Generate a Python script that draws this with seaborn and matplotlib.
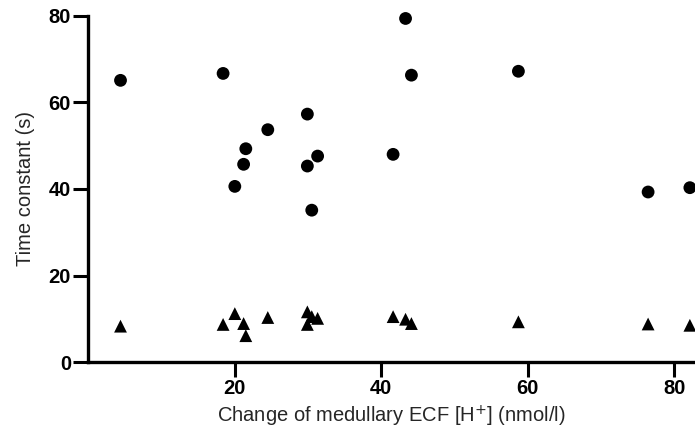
import pandas as pd
import numpy as np
import matplotlib
matplotlib.use('Agg')
import matplotlib.pyplot as plt
import seaborn as sns

# ── Data ─────────────────────────────────────────────────────
delta_h = [4.4, 18.4, 20.0, 21.2, 21.5, 24.5, 29.9, 29.9, 30.5, 31.3,
           41.6, 43.3, 44.1, 58.7, 76.4, 82.1]
tau_slow = [65.1, 66.7, 40.6, 45.7, 49.3, 53.7, 57.3, 45.3, 35.1, 47.6,
            48.0, 79.4, 66.3, 67.2, 39.3, 40.3]
tau_fast = [8.3, 8.7, 11.2, 8.9, 6.1, 10.3, 11.6, 8.7, 10.5, 10.1,
            10.5, 9.9, 8.9, 9.3, 8.8, 8.5]

x_ticks = [20, 40, 60, 80]
y_ticks = [0, 20, 40, 60, 80]

df = pd.DataFrame({
    'dh': delta_h * 2,
    'tau': tau_slow + tau_fast,
    'component': ['slow'] * len(tau_slow) + ['fast'] * len(tau_fast),
})

# ── Plot ─────────────────────────────────────────────────────
sns.set_style('ticks')
plt.rcParams['font.family'] = ['Liberation Sans', 'DejaVu Sans']

fig = plt.figure(figsize=(6.95, 4.29), dpi=100)
ax = fig.add_axes([0.127, 0.156, 0.873, 0.807])

sns.scatterplot(data=df, x='dh', y='tau', style='component',
                markers={'slow': 'o', 'fast': '^'}, color='black',
                s=85, edgecolor='black', linewidth=0, legend=False,
                clip_on=False, ax=ax)

ax.set_xlim(0, 82.8)
ax.set_ylim(0, 80)
ax.set_xticks(x_ticks)
ax.set_yticks(y_ticks)
ax.tick_params(axis='both', direction='out', length=10.5, width=2.2,
               labelsize=14.5, pad=2, colors='black')
for lab in ax.get_xticklabels() + ax.get_yticklabels():
    lab.set_fontweight('bold')

sns.despine(ax=ax)
for side in ['left', 'bottom']:
    ax.spines[side].set_linewidth(2.4)
    ax.spines[side].set_color('black')

ax.set_xlabel('Change of medullary ECF [H$^{+}$] (nmol/l)', fontsize=14.5,
              labelpad=4)
ax.set_ylabel('Time constant (s)', fontsize=14.5, labelpad=10)

plt.savefig('out.png', dpi=100)
plt.close()
